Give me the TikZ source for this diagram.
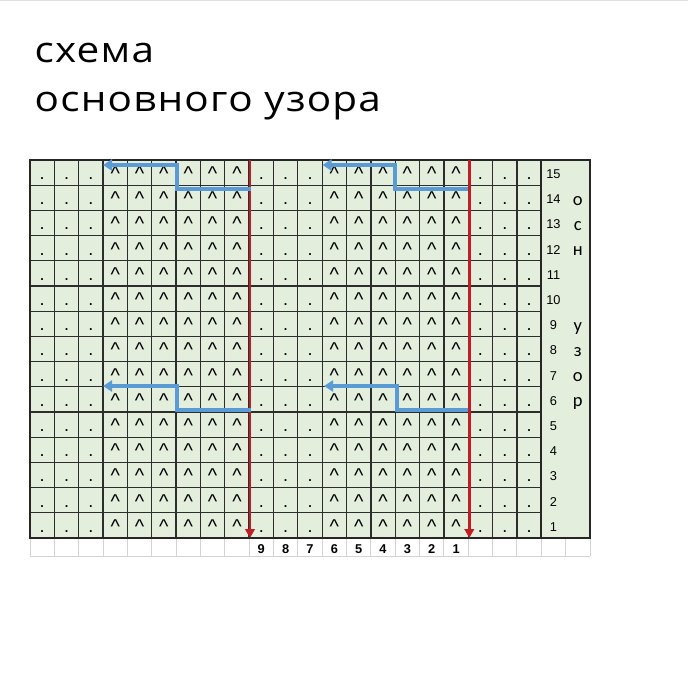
\documentclass[tikz,border=0pt]{standalone}
\usepackage{fontspec}
\setmainfont{Liberation Sans}
\newfontfamily\titlefont[LetterSpace=3]{Open Sans}
\newfontfamily\numfont{Liberation Sans}
\newfontfamily\letterfont{Carlito}
\usetikzlibrary{arrows.meta}
\definecolor{cellgreen}{RGB}{228,238,220}
\definecolor{gridline}{RGB}{45,45,45}
\definecolor{redline}{RGB}{192,30,36}
\definecolor{blueline}{RGB}{91,155,213}
\definecolor{lightgrid}{RGB}{212,212,212}
\tikzset{
  gridthin/.style={draw=gridline, line width=1.3pt},
  gridthick/.style={draw=black!85, line width=2pt},
  lightline/.style={draw=lightgrid, line width=1pt},
  dotmark/.style={inner sep=0pt, anchor=base, font=\fontsize{18}{18}\selectfont},
  caretmark/.style={inner sep=0pt, anchor=base, font=\fontsize{20}{20}\selectfont},
  rownum/.style={inner sep=0pt, anchor=center, font=\numfont\fontsize{12.8}{13}\selectfont},
  colnum/.style={inner sep=0pt, anchor=center, font=\numfont\bfseries\fontsize{12.8}{13}\selectfont},
  sideletter/.style={inner sep=0pt, anchor=base, font=\letterfont\fontsize{18.5}{18.5}\selectfont},
  titletext/.style={inner sep=0pt, anchor=base west, font=\titlefont\fontsize{35.5}{38}\selectfont},
  redarrow/.style={draw=redline, line width=2.8pt, -{Triangle[length=9pt,width=9.5pt]}},
  bluearrow/.style={draw=blueline, line width=4pt, line join=miter, -{Triangle[length=9pt,width=11pt]}},
}
\begin{document}
\begin{tikzpicture}[x=1pt,y=-1pt]
\useasboundingbox (0,0) rectangle (688,690);
\fill[white] (0,0) rectangle (688,690);
\draw[gray!25, line width=1.5pt] (0,0.75) -- (688,0.75);

\def\cw{24.3478}
\def\rh{25.2}

% title
\node[titletext] (title1) at (34.5,62.5) {\scalebox{1.14}[1]{схема}};
\node[titletext] (title2) at (34.5,111) {\scalebox{1.14}[1]{основного узора}};

% background
\fill[cellgreen] (30,160) rectangle (590,538);

% grid lines
\foreach \c in {1,...,20} {
  \draw[gridthin] ({30+\c*\cw},160) -- ({30+\c*\cw},538);
}
\foreach \r in {1,...,14} {
  \draw[gridthin] (30,{160+\r*\rh}) -- ({30+21*\cw},{160+\r*\rh});
}
\draw[gridthick] (30,160) rectangle (590,538);
\draw[gridthick] ({30+21*\cw},160) -- ({30+21*\cw},538);

% bottom number row
\foreach \c in {0,...,23} {
  \draw[lightline] ({30+\c*\cw},539) -- ({30+\c*\cw},556);
}
\draw[lightline] (30,556) -- (590,556);

% cell contents
\foreach \r in {0,...,14} {
  \foreach \c in {0,1,2,9,10,11,18,19,20} {
    \node[dotmark] (d-\r-\c) at ({30+(\c+0.5)*\cw},{160+\r*\rh+19.4}) {.};
  }
  \foreach \c in {3,4,5,6,7,8,12,13,14,15,16,17} {
    \node[caretmark] (k-\r-\c) at ({30+(\c+0.5)*\cw},{160+\r*\rh+20.5}) {\textasciicircum};
  }
  \pgfmathtruncatemacro{\num}{15-\r}
  \node[rownum] (n-\r) at ({30+21.5*\cw},{160+(\r+0.5)*\rh+1.5}) {\num};
}

% bottom numbers 9..1
\foreach \c/\t in {9/9,10/8,11/7,12/6,13/5,14/4,15/3,16/2,17/1} {
  \node[colnum] (b-\t) at ({30+(\c+0.5)*\cw},549) {\t};
}

% side letters
\foreach \r/\t in {1/о,2/с,3/н,6/у,7/з,8/о,9/р} {
  \node[sideletter] (s-\r) at ({30+22.5*\cw},{160+(\r+0.5)*\rh+7.3}) {\t};
}

% red arrows
\coordinate (r1a) at (250,160);
\coordinate (r1b) at (250,538);
\coordinate (r2a) at (469.3,160);
\coordinate (r2b) at (469.3,538);
\draw[redarrow] (r1a) -- (r1b);
\draw[redarrow] (r2a) -- (r2b);

% blue arrows
\coordinate (a1s) at (251,189);
\coordinate (a1c) at (176.8,189);
\coordinate (a1d) at (176.8,165);
\coordinate (a1e) at (103,165);
\draw[bluearrow] (a1s) -- (a1c) -- (a1d) -- (a1e);

\coordinate (a2s) at (467.5,189);
\coordinate (a2c) at (394.5,189);
\coordinate (a2d) at (394.5,165);
\coordinate (a2e) at (322.5,165);
\draw[bluearrow] (a2s) -- (a2c) -- (a2d) -- (a2e);

\coordinate (a3s) at (251,409.5);
\coordinate (a3c) at (176.8,409.5);
\coordinate (a3d) at (176.8,386);
\coordinate (a3e) at (103,386);
\draw[bluearrow] (a3s) -- (a3c) -- (a3d) -- (a3e);

\coordinate (a4s) at (468,409.5);
\coordinate (a4c) at (396.5,409.5);
\coordinate (a4d) at (396.5,386);
\coordinate (a4e) at (324,386);
\draw[bluearrow] (a4s) -- (a4c) -- (a4d) -- (a4e);
\end{tikzpicture}
\end{document}
